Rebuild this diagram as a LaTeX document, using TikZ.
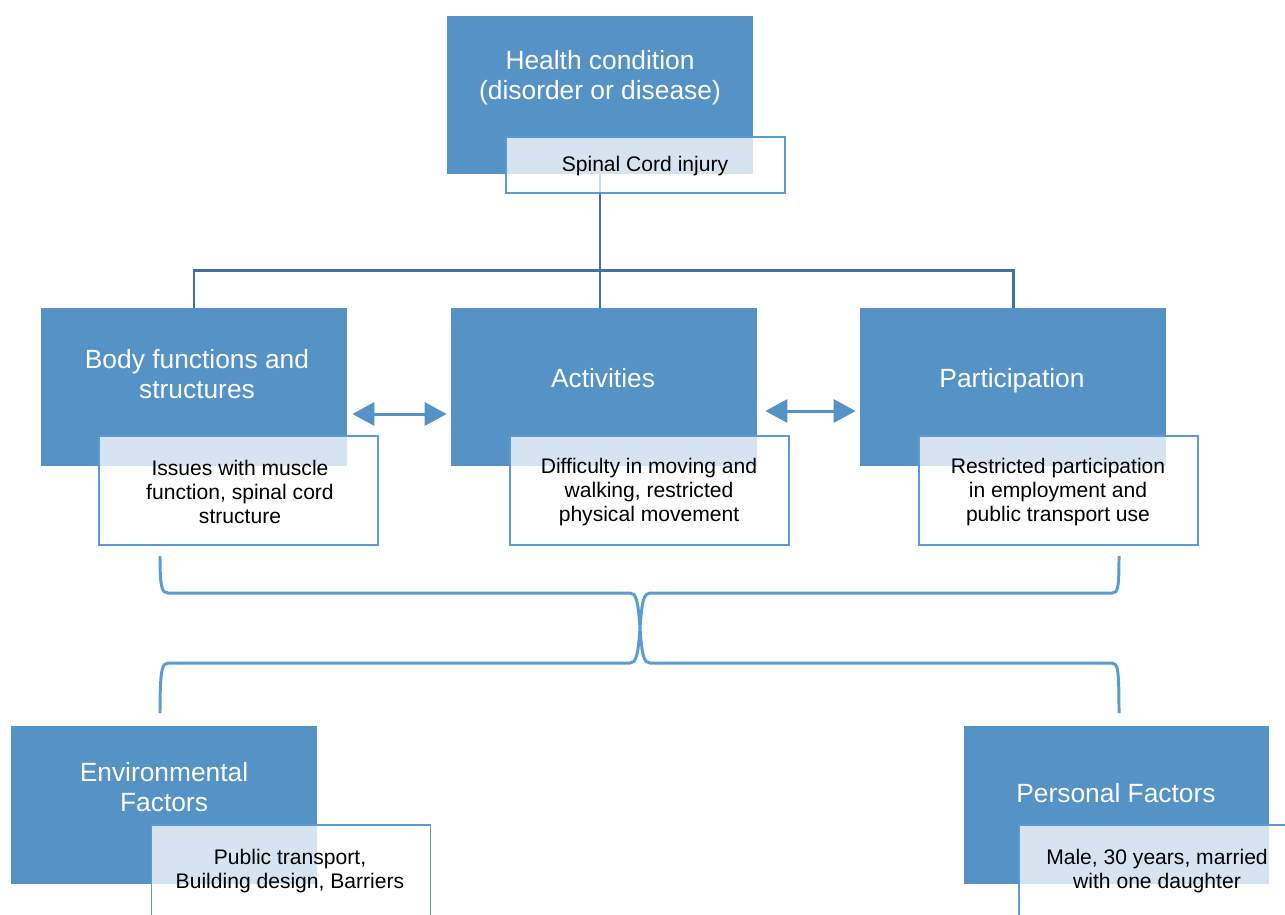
\documentclass[tikz,border=0pt]{standalone}
\usepackage{fontspec}
\setmainfont{Liberation Sans}
\usetikzlibrary{arrows.meta}

\definecolor{boxblue}{HTML}{5592C6}
\definecolor{edgeblue}{HTML}{5B9BD5}
\definecolor{treeblue}{HTML}{41719C}

\begin{document}
\begin{tikzpicture}[x=0.02cm, y=-0.02cm,
    mainbox/.style={rectangle, fill=boxblue, inner sep=0pt, minimum width=6.12cm, minimum height=3.16cm},
    subbox/.style={rectangle, draw=edgeblue, line width=1.1pt, fill=white, fill opacity=0.76, inner sep=0pt, minimum width=5.58cm, minimum height=2.18cm},
    headtext/.style={text=white, align=center, inner sep=0pt, font=\fontsize{15}{17}\selectfont},
    subtext/.style={text=black, align=center, inner sep=0pt, font=\fontsize{12}{13.9}\selectfont},
    tree/.style={draw=treeblue, line width=1.7pt},
    brace/.style={draw=edgeblue, line width=1.7pt},
    linkarrow/.style={draw=boxblue, line width=1.7pt,
        {Triangle[length=0.44cm,width=0.46cm]}-{Triangle[length=0.44cm,width=0.46cm]}}]

    % Page frame, the picture is cut at its right and lower edge
    \useasboundingbox (0,0) rectangle (1285,914);
    \clip (0,0) rectangle (1285,914);

    % The blue boxes
    \node[mainbox] (health) at (600,95) {};
    \node[mainbox] (body) at (194,387) {};
    \node[mainbox] (act) at (604,387) {};
    \node[mainbox] (part) at (1013,387) {};
    \node[mainbox] (env) at (164,805) {};
    \node[mainbox] (pers) at (1116.5,805) {};

    % Tree from the health condition down to the three boxes
    \coordinate (bus) at (600,270);
    \draw[tree] (health.south) -- (bus);
    \draw[tree] (bus) -| (body.north);
    \draw[tree] (bus) -| (part.north);
    \draw[tree] (bus) -- (bus |- act.north);

    % Double arrows between the boxes of the middle row
    \draw[linkarrow] ([shift={(5,27)}]body.east) -- ([shift={(-4,27)}]act.west);
    \draw[linkarrow] ([shift={(8,24)}]act.east) -- ([shift={(-4,24)}]part.west);

    % White boxes on top, lightly see-through
    \node[subbox, minimum height=1.12cm] (spinal) at (645.5,165) {};
    \node[subbox] (bodysub) at (238.5,490.5) {};
    \node[subbox] (actsub) at (649.5,490.5) {};
    \node[subbox] (partsub) at (1058.5,490.5) {};
    \node[subbox] (envsub) at (291,879.5) {};
    \node[subbox] (perssub) at (1158.5,879.5) {};

    % Two braces joining the upper and the lower row
    \draw[brace] (160,556) .. controls (160,588) and (162,593) .. (168,593)
        -- (630,593) .. controls (636,593) and (638,600) .. (640,628)
        .. controls (642,600) and (644,593) .. (650,593)
        -- (1112,593) .. controls (1118,593) and (1119,588) .. (1119,556);
    \draw[brace] (160,713) .. controls (160,670) and (162,663) .. (168,663)
        -- (630,663) .. controls (636,663) and (638,656) .. (640,628)
        .. controls (642,656) and (644,663) .. (650,663)
        -- (1112,663) .. controls (1118,663) and (1119,670) .. (1119,713);

    % Texts of the blue boxes
    \node[headtext] (healthtxt) at (600,78) {Health condition\\(disorder or disease)};
    \node[headtext] (bodytxt) at (197,374) {Body functions and\\structures};
    \node[headtext] (acttxt) at (603,378) {Activities};
    \node[headtext] (parttxt) at (1012,381) {Participation};
    \node[headtext] (envtxt) at (164,787) {Environmental\\Factors};
    \node[headtext] (perstxt) at (1116,793) {Personal Factors};

    % Texts of the white boxes
    \node[subtext] (spinaltxt) at (645,166) {Spinal Cord injury};
    \node[subtext] (bodysubtxt) at (240,492) {Issues with muscle\\function, spinal cord\\structure};
    \node[subtext] (actsubtxt) at (649,492) {Difficulty in moving and\\walking, restricted\\physical movement};
    \node[subtext] (partsubtxt) at (1058,492) {Restricted participation\\in employment and\\public transport use};
    \node[subtext] (envsubtxt) at (290,871) {Public transport,\\Building design, Barriers};
    \node[subtext] (perssubtxt) at (1157,871) {Male, 30 years, married\\with one daughter};

\end{tikzpicture}
\end{document}
